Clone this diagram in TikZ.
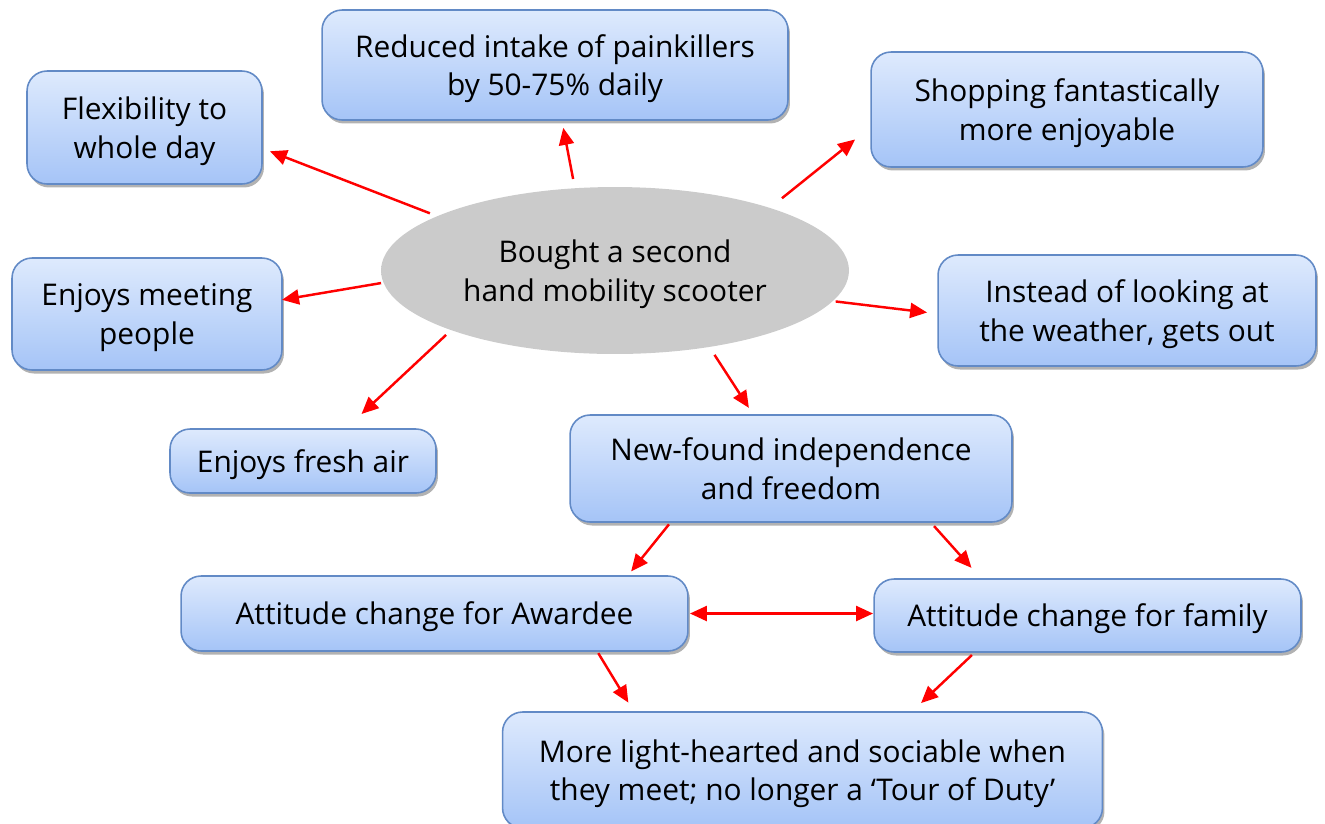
\documentclass[tikz,border=0pt]{standalone}
\usepackage{fontspec}
\setmainfont{Open Sans}
\usetikzlibrary{arrows.meta,shapes.geometric,shadows}
\definecolor{boxtop}{RGB}{222,234,253}
\definecolor{boxbot}{RGB}{165,196,247}
\definecolor{boxline}{RGB}{98,138,198}
\definecolor{ellgray}{RGB}{203,203,203}
\pgfdeclareradialshading{ellrim}{\pgfpoint{0bp}{0bp}}{color(0bp)=(ellgray); color(41bp)=(ellgray); color(47bp)=(white!65!ellgray); color(50bp)=(ellgray!80!black)}
\begin{document}
\begin{tikzpicture}[x=0.02cm, y=-0.02cm,
	box/.style={rectangle, rounded corners=0.4cm, draw=boxline, line width=0.9pt, outer sep=0pt,
		top color=boxtop, bottom color=boxbot, align=center, inner sep=0pt, text depth=0pt,
		font=\fontsize{17pt}{22pt}\selectfont,
		drop shadow={shadow xshift=0.04cm, shadow yshift=-0.07cm, opacity=0.3, fill=black}},
	bubble/.style={ellipse, shading=ellrim, align=center, inner xsep=-1cm, inner ysep=0pt, outer sep=0pt,
		text depth=0pt, font=\fontsize{17pt}{22pt}\selectfont},
	>={Triangle[length=0.34cm,width=0.3cm]},
	arr/.style={->, red, line width=1.4pt}]
	\useasboundingbox (0,0) rectangle (1325,823);
	% boxes
		\node (ell) at (615,270.5) [bubble, minimum width=9.36cm, minimum height=3.34cm] {Bought a second\\hand mobility scooter};
		\node (flex) at (144.5,127.5) [box, minimum width=4.70cm, minimum height=2.26cm] {Flexibility to\\whole day};
		\node (reduced) at (555,65) [box, minimum width=9.32cm, minimum height=2.20cm] {Reduced intake of painkillers\\by 50-75\% daily};
		\node (shop) at (1067,109.5) [box, minimum width=7.84cm, minimum height=2.30cm] {Shopping fantastically\\more enjoyable};
		\node (meet) at (147,314) [box, minimum width=5.40cm, minimum height=2.24cm] {Enjoys meeting\\people};
		\node (instead) at (1127,310.5) [box, minimum width=7.56cm, minimum height=2.22cm] {Instead of looking at\\the weather, gets out};
		\node (fresh) at (303,461) [box, minimum width=5.32cm, minimum height=1.28cm] {Enjoys fresh air};
		\node (newf) at (791,468.5) [box, minimum width=8.84cm, minimum height=2.14cm] {New-found independence\\and freedom};
		\node (award) at (434.5,613.5) [box, minimum width=10.14cm, minimum height=1.50cm] {Attitude change for Awardee};
		\node (family) at (1087.5,615.5) [box, minimum width=8.54cm, minimum height=1.46cm] {Attitude change for family};
		\node (more) at (802.5,770) [box, minimum width=12.00cm, minimum height=2.32cm] {More light-hearted and sociable when\\they meet; no longer a ‘Tour of Duty’};
	% arrows
		\draw[arr, shorten <=0.16cm, shorten >=0.17cm] (ell.163.4) -- (flex.-10.3);
		\draw[arr, shorten <=0.19cm, shorten >=0.16cm] (ell.116.1) -- (reduced.-83.4);
		\draw[arr, shorten <=0.31cm, shorten >=0.41cm] (ell.22.2) -- (shop.-175.5);
		\draw[arr, shorten <=0.05cm] (ell.-177) -- (meet.6.9);
		\draw[arr, shorten <=0.06cm, shorten >=0.22cm] (ell.-8.2) -- (instead.-179.2);
		\draw[arr, shorten <=0.14cm, shorten >=0.44cm] (ell.-160) -- (fresh.37.4);
		\draw[arr, shorten <=0.19cm, shorten >=0.17cm] (ell.-39.5) -- (newf.125.7);
		\draw[arr, shorten <=0.06cm, shorten >=0.12cm] (newf.-156.1) -- (award.11.8);
		\draw[arr, shorten <=0.11cm, shorten >=0.30cm] (newf.-21.9) -- (family.161.3);
		\draw[arr, <->, shorten <=0.04cm, shorten >=0.02cm] (award.-0.8) -- (award.-0.8 -| family.west);
		\draw[arr, shorten <=0.05cm, shorten >=0.22cm] (award.-13.6) -- (more.161.1);
		\draw[arr, shorten <=0.09cm, shorten >=0.26cm] (family.-162.4) -- (more.28.4);
\end{tikzpicture}
\end{document}
